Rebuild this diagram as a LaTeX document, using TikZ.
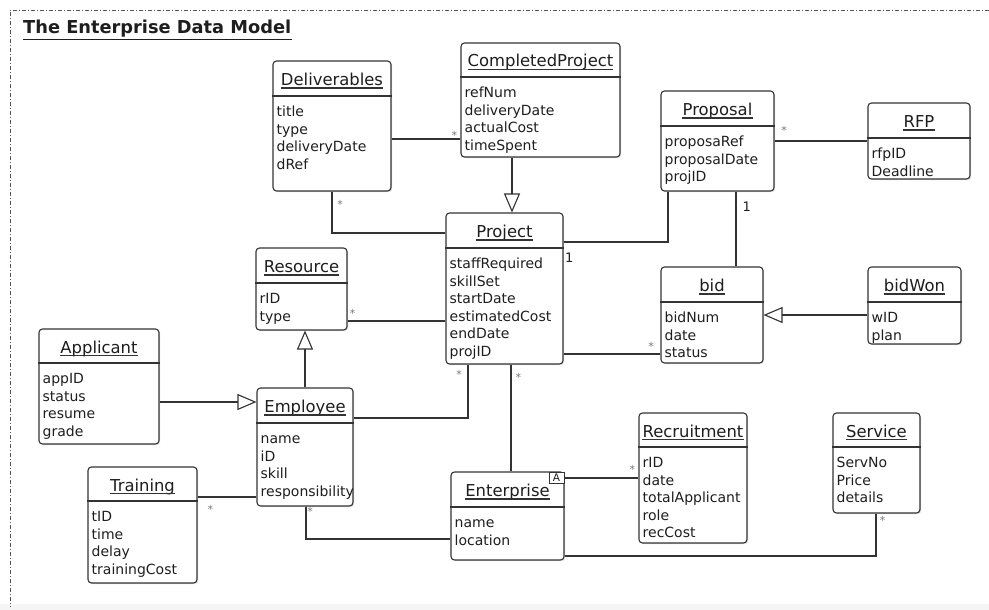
\documentclass[tikz,border=0pt]{standalone}
\usepackage{fontspec}
\setmainfont{DejaVu Sans}
\usetikzlibrary{arrows.meta,shadows}
\definecolor{umlline}{HTML}{333333}
\definecolor{umltext}{HTML}{1E1E1E}
\definecolor{multgray}{HTML}{7A7A7A}
\definecolor{framegray}{HTML}{555555}

% A UML class: name, left, top, right, bottom, separator y, title, attribute list
\newcommand\UMLclass[8]{%
  \node[classbox, minimum width={(#4-#2)*1pt}, minimum height={(#5-#3)*1pt}]
    (#1) at ({(#2+#4)/2},{(#3+#5)/2}) {};
  \draw[classline] (#1.west |- 0,#6) -- (#1.east |- 0,#6);
  \node[classtitle] (#1-t) at ({(#2+#4)/2},{(#3+#6)/2+7}) {#7};
  \draw[classline] ([yshift=-2.5pt]#1-t.base west) -- ([yshift=-2.5pt]#1-t.base east);
  \foreach \a [count=\i from 0] in {#8} {
    \node[classattr] (#1-a\i) at (#2+3.5,{#6+20.5+17.6*\i}) {\a};
  }%
}

\begin{document}
\begin{tikzpicture}[x=1pt,y=-1pt,
  classbox/.style={draw=umlline, line width=1.1pt, fill=white, rounded corners=3.5pt,
    inner sep=0pt, drop shadow={opacity=0.25, shadow xshift=1.2pt, shadow yshift=-1.2pt}},
  classline/.style={draw=umlline, line width=1.1pt},
  classtitle/.style={inner sep=0pt, anchor=base, text=umltext,
    font=\fontsize{16.4}{20}\selectfont},
  classattr/.style={inner sep=0pt, anchor=base west, text=umltext,
    font=\fontsize{14}{17.6}\selectfont},
  assoc/.style={draw=umlline, line width=1.1pt},
  gen/.style={draw=umlline, line width=1.1pt,
    -{Triangle[open, length=19pt, width=16pt, line width=1.1pt]}},
  mult/.style={inner sep=0pt, anchor=base, text=multgray,
    font=\fontsize{11}{11}\selectfont},
  one/.style={inner sep=0pt, anchor=base, text=umltext,
    font=\fontsize{13}{13}\selectfont},
]
\useasboundingbox (0,0) rectangle (989,610);
\fill[white] (0,0) rectangle (989,610);
\fill[black!4] (0,604) rectangle (989,610);

% diagram frame
\draw[framegray, line width=0.8pt, dash pattern=on 4pt off 2pt on 1pt off 2pt]
  (998,10) -- (10,10) -- (10,607);

% heading
\node[inner sep=0pt, anchor=base west, text=umltext,
  font=\fontsize{17.8}{20}\selectfont\bfseries] (heading) at (23,33.5) {The Enterprise Data Model};
\draw[umltext, line width=1.3pt] ([yshift=-6pt]heading.base west) -- ([yshift=-6pt]heading.base east);

% classes
\UMLclass{deliv}{273}{61}{391}{191}{96}{Deliverables}{title,type,deliveryDate,dRef}
\UMLclass{cproj}{461}{43}{620}{157}{77}{CompletedProject}{refNum,deliveryDate,actualCost,timeSpent}
\UMLclass{prop}{661}{91}{774}{191}{126}{Proposal}{proposaRef,proposalDate,projID}
\UMLclass{rfp}{868}{103}{970}{179}{138}{RFP}{rfpID,Deadline}
\UMLclass{proj}{446}{213}{563}{364}{248}{Project}{staffRequired,skillSet,startDate,estimatedCost,endDate,projID}
\UMLclass{res}{256}{248}{347}{330}{283}{Resource}{rID,type}
\UMLclass{bid}{661}{267}{763}{363}{302}{bid}{bidNum,date,status}
\UMLclass{bidwon}{868}{267}{961}{344}{302}{bidWon}{wID,plan}
\UMLclass{app}{39}{329}{159}{444}{363}{Applicant}{appID,status,resume,grade}
\UMLclass{emp}{257}{388}{353}{506}{423}{Employee}{name,iD,skill,responsibility}
\UMLclass{train}{88}{467}{197}{583}{501}{Training}{tID,time,delay,trainingCost}
\UMLclass{ent}{451}{472}{564}{560}{507}{Enterprise}{name,location}
\UMLclass{rec}{639}{413}{747}{543}{447}{Recruitment}{rID,date,totalApplicant,role,recCost}
\UMLclass{serv}{833}{413}{920}{513}{447}{Service}{ServNo,Price,details}

% abstract marker on Enterprise
\node[draw=umlline, line width=0.9pt, fill=white, inner sep=0pt, minimum width=15pt,
  minimum height=11pt, text=umltext, font=\fontsize{10.5}{10.5}\selectfont]
  (ent-abs) at (556.5,477.5) {A};

% associations
\draw[assoc] (deliv.east |- 0,139) -- (cproj.west |- 0,139);
\draw[assoc] (deliv.south -| 332,0) |- (proj.west |- 0,233);
\draw[assoc] (proj.east |- 0,242) -| (prop.south -| 668,0);
\draw[assoc] (prop.east |- 0,141) -- (rfp.west |- 0,141);
\draw[assoc] (prop.south -| 736,0) -- (bid.north -| 736,0);
\draw[assoc] (proj.east |- 0,354) -- (bid.west |- 0,354);
\draw[assoc] (res.east |- 0,321) -- (proj.west |- 0,321);
\draw[assoc] (emp.east |- 0,418) -| (proj.south -| 468,0);
\draw[assoc] (train.east |- 0,497) -- (emp.west |- 0,497);
\draw[assoc] (emp.south -| 306,0) |- (ent.west |- 0,539);
\draw[assoc] (proj.south -| 511,0) -- (ent.north -| 511,0);
\draw[assoc] (ent-abs.east |- 0,478) -- (rec.west |- 0,478);
\draw[assoc] (ent.east |- 0,556) -| (serv.south -| 876,0);

% generalizations
\draw[gen] (cproj.south -| 512,0) -- (proj.north -| 512,0);
\draw[gen] (bidwon.west |- 0,315) -- (bid.east |- 0,315);
\draw[gen] (emp.north -| 305,0) -- (res.south -| 305,0);
\draw[gen] (app.east |- 0,402) -- (emp.west |- 0,402);

% multiplicities
\node[mult] (m1) at (454.3,139.5) {*};
\node[mult] (m2) at (340,208.4) {*};
\node[mult] (m3) at (784,134.7) {*};
\node[one] (m4) at (746.7,211.4) {1};
\node[one] (m5) at (569.3,262) {1};
\node[mult] (m6) at (352.7,317.4) {*};
\node[mult] (m7) at (651,350.4) {*};
\node[mult] (m8) at (459,378.1) {*};
\node[mult] (m9) at (518.3,381.4) {*};
\node[mult] (m10) at (210.3,513.7) {*};
\node[mult] (m11) at (310,515.4) {*};
\node[mult] (m12) at (632.3,473.1) {*};
\node[mult] (m13) at (882.7,524.7) {*};
\end{tikzpicture}
\end{document}
